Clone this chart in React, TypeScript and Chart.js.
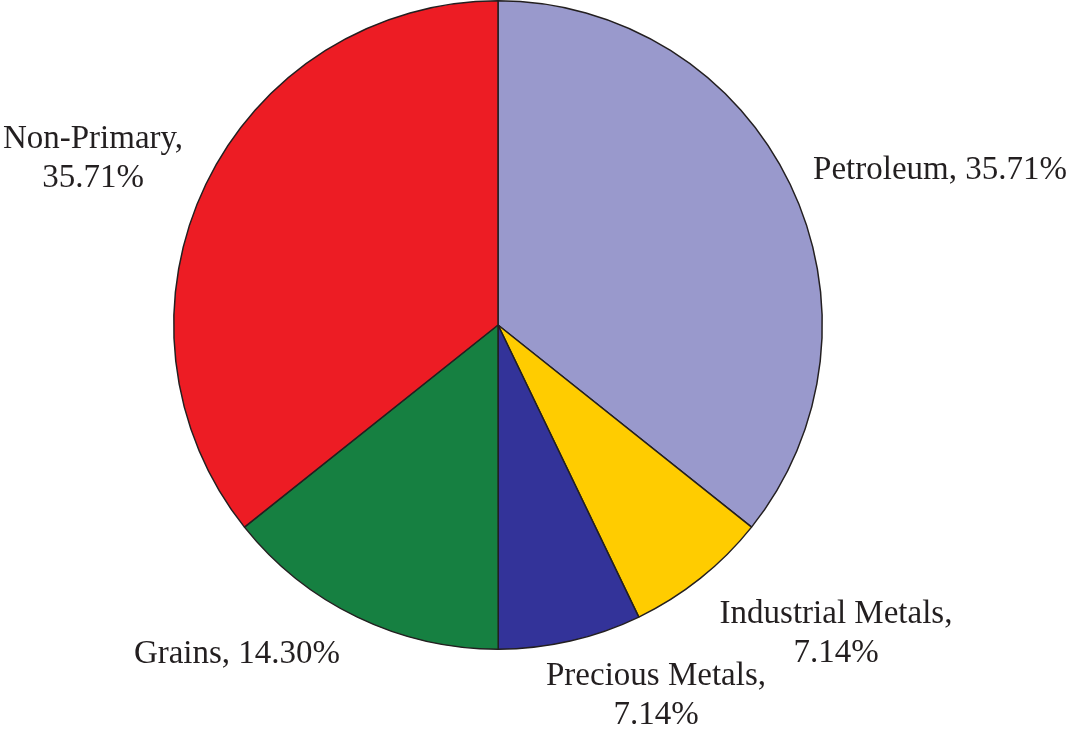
import React, { useEffect, useRef } from "react";
import { Chart, registerables } from "chart.js";

Chart.register(...registerables);

const categories = ["Petroleum", "Industrial Metals", "Precious Metals", "Grains", "Non-Primary"];
const shares = [35.71, 7.14, 7.14, 14.3, 35.71];
const shareLabels = ["35.71%", "7.14%", "7.14%", "14.30%", "35.71%"];
const colors = ["#9999CC", "#FFCC00", "#333399", "#168041", "#ED1C24"];

// label layout: anchor point (center x, first baseline y) and whether the share goes on a 2nd line
const labelLayout = [
  { x: 940, y: 179, split: false },
  { x: 836, y: 623, split: true },
  { x: 656, y: 685, split: true },
  { x: 237, y: 663, split: false },
  { x: 93, y: 148, split: true },
];

const labelPlugin = {
  id: "sliceLabels",
  afterDraw(chart: any) {
    const ctx = chart.ctx;
    ctx.save();
    ctx.font = '33px "Liberation Serif", "Times New Roman", serif';
    ctx.fillStyle = "#231F20";
    ctx.textAlign = "center";
    ctx.textBaseline = "alphabetic";
    categories.forEach((c, i) => {
      const l = labelLayout[i];
      if (l.split) {
        ctx.fillText(c + ",", l.x, l.y);
        ctx.fillText(shareLabels[i], l.x, l.y + 39);
      } else {
        ctx.fillText(c + ", " + shareLabels[i], l.x, l.y);
      }
    });
    ctx.restore();
  },
};

export default function App() {
  const ref = useRef<HTMLCanvasElement | null>(null);
  useEffect(() => {
    document.body.style.margin = "0";
    const chart = new Chart(ref.current as HTMLCanvasElement, {
      type: "pie",
      data: {
        labels: categories,
        datasets: [
          {
            data: shares,
            backgroundColor: colors,
            borderColor: "#231F20",
            borderWidth: 1.5,
          },
        ],
      },
      options: {
        animation: false,
        responsive: false,
        events: [],
        layout: { padding: { left: 173, top: 0, right: 247, bottom: 85 } },
        plugins: { legend: { display: false }, tooltip: { enabled: false } },
      },
      plugins: [labelPlugin],
    });
    return () => chart.destroy();
  }, []);
  return (
    <div style={{ position: "absolute", left: 0, top: 0, width: 1070, height: 735, background: "#fff" }}>
      <canvas ref={ref} width={1070} height={735} style={{ width: 1070, height: 735 }} />
    </div>
  );
}
